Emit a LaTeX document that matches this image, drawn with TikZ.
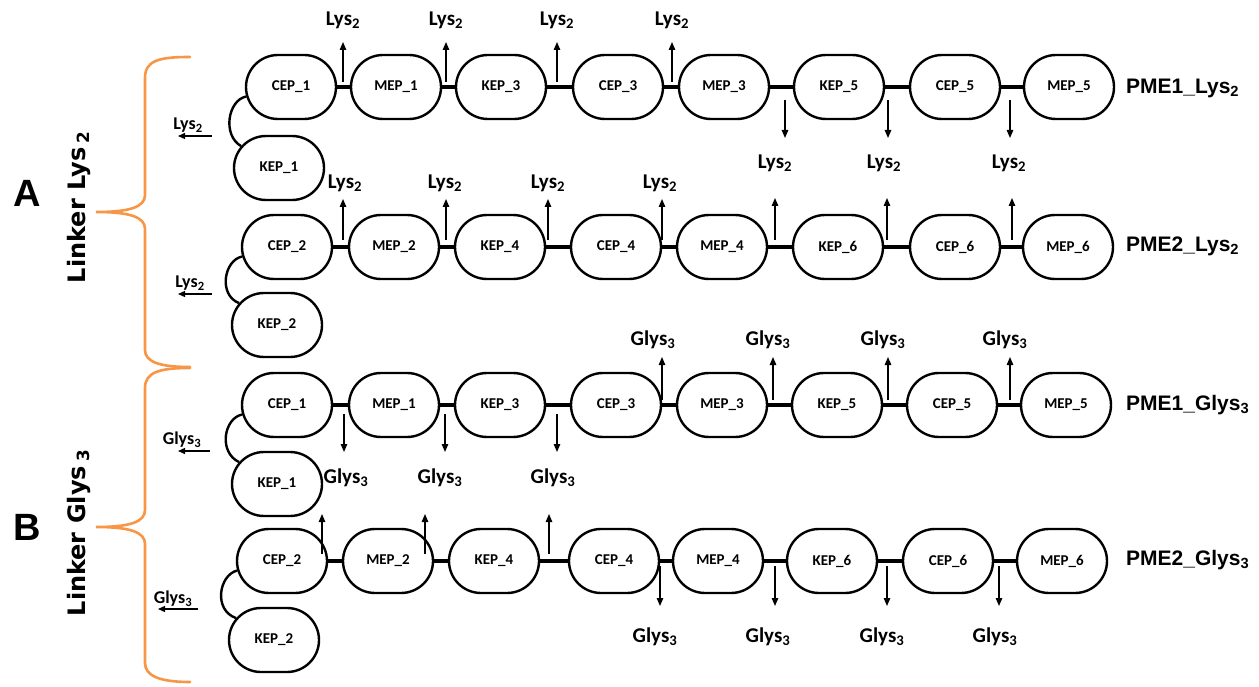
\documentclass[tikz,border=0pt]{standalone}
\usepackage{fontspec}
\setmainfont{Carlito}
\newfontfamily\arialf{Liberation Sans}
\newfontfamily\dejaf{DejaVu Sans}
\usetikzlibrary{arrows.meta,shapes.misc}
\definecolor{braceorange}{HTML}{F79646}
\begin{document}
\begin{tikzpicture}[x=1pt,y=-1pt,
  pep/.style={rounded rectangle, draw, line width=2.4pt, minimum width=90pt, minimum height=64pt, inner sep=0pt, font=\bfseries\fontsize{15}{15}\selectfont},
  link/.style={line width=3.5pt},
  arr/.style={line width=1.3pt, -{Triangle[length=8pt,width=6.5pt]}},
  larr/.style={line width=1.3pt, -{Triangle[length=7pt,width=6pt]}},
  lab/.style={inner sep=0pt, font=\bfseries\fontsize{21}{21}\selectfont},
  llab/.style={inner sep=0pt, font=\bfseries\fontsize{18}{18}\selectfont},
  pme/.style={inner sep=0pt, anchor=west, font=\arialf\bfseries\fontsize{21}{21}\selectfont},
  brace/.style={draw=braceorange, line width=2.6pt, line cap=round},
  curve/.style={line width=2.4pt},
  letter/.style={inner sep=0pt, font=\arialf\bfseries\fontsize{38}{38}\selectfont},
  linker/.style={inner sep=0pt, rotate=90, font=\dejaf\bfseries\fontsize{24}{24}\selectfont}
]
\useasboundingbox (0,0) rectangle (1259,687);

% ---------- braces and side texts ----------
\draw[brace] (190,57) .. controls (160,57) and (145,60) .. (145,78) -- (145,195)
  .. controls (145,207) and (130,212) .. (96,212) .. controls (130,212) and (145,217) .. (145,229)
  -- (145,350) .. controls (145,362) and (160,367) .. (190,367);
\draw[brace] (190,368) .. controls (160,368) and (145,372) .. (145,388) -- (145,510)
  .. controls (145,522) and (130,527) .. (96,527) .. controls (130,527) and (145,532) .. (145,544)
  -- (145,663) .. controls (145,676) and (160,682) .. (190,682);
\node[letter] (lA) at (27,193) {A};
\node[letter] (lB) at (27,527) {B};
\node[linker] (linkA) at (79,207) {Linker Lys\,\textsubscript{2}};
\node[linker] (linkB) at (79,533) {Linker Glys\,\textsubscript{3}};

% ---------- row 1: PME1_Lys2 ----------
\node[pep] (a1) at (291,87) {CEP\_1};
\node[pep] (a2) at (396,87) {MEP\_1};
\node[pep] (a3) at (501,87) {KEP\_3};
\node[pep] (a4) at (618,87) {CEP\_3};
\node[pep] (a5) at (724,87) {MEP\_3};
\node[pep] (a6) at (839,87) {KEP\_5};
\node[pep] (a7) at (955,87) {CEP\_5};
\node[pep] (a8) at (1069,87) {MEP\_5};
\node[pep] (a0) at (279,168) {KEP\_1};
\foreach \i/\j in {a1/a2,a2/a3,a3/a4,a4/a5,a5/a6,a6/a7,a7/a8} \draw[link] (\i.east) -- (\j.west);
\draw[curve] (a1.192) .. controls (228,100) and (222,135) .. (a0.150);
\node[pme] (pa) at (1126,88) {PME1\_Lys\textsubscript{2}};
\node[llab] (la0) at (188,125) {Lys\textsubscript{2}};
\draw[larr] (212,136) -- (178,136);
\foreach \x in {343,446,557,672} {\draw[arr] (\x,82) -- (\x,42); \node[lab] at (\x,20) {Lys\textsubscript{2}};}
\foreach \x/\lx in {785/775,888/884,1010/1009} {\draw[arr] (\x,100) -- (\x,138); \node[lab] at (\lx,163) {Lys\textsubscript{2}};}

% ---------- row 2: PME2_Lys2 ----------
\node[pep] (b1) at (287,247) {CEP\_2};
\node[pep] (b2) at (394,247) {MEP\_2};
\node[pep] (b3) at (500,247) {KEP\_4};
\node[pep] (b4) at (616,247) {CEP\_4};
\node[pep] (b5) at (722,247) {MEP\_4};
\node[pep] (b6) at (838,247) {KEP\_6};
\node[pep] (b7) at (955,247) {CEP\_6};
\node[pep] (b8) at (1068,247) {MEP\_6};
\node[pep] (b0) at (277,325) {KEP\_2};
\foreach \i/\j in {b1/b2,b2/b3,b3/b4,b4/b5,b5/b6,b6/b7,b7/b8} \draw[link] (\i.east) -- (\j.west);
\draw[curve] (b1.192) .. controls (224,260) and (218,295) .. (b0.150);
\node[pme] (pb) at (1126,246) {PME2\_Lys\textsubscript{2}};
\node[llab] (lb0) at (190,283) {Lys\textsubscript{2}};
\draw[larr] (212,294) -- (178,294);
\foreach \x/\lx in {343/345,446/445,548/548,662/660} {\draw[arr] (\x,240) -- (\x,199); \node[lab] at (\lx,183) {Lys\textsubscript{2}};}
\foreach \x in {775,887,1012} {\draw[arr] (\x,240) -- (\x,198);}

% ---------- row 3: PME1_Glys3 ----------
\node[pep] (c1) at (287,405) {CEP\_1};
\node[pep] (c2) at (394,405) {MEP\_1};
\node[pep] (c3) at (500,405) {KEP\_3};
\node[pep] (c4) at (616,405) {CEP\_3};
\node[pep] (c5) at (722,405) {MEP\_3};
\node[pep] (c6) at (837,405) {KEP\_5};
\node[pep] (c7) at (952,405) {CEP\_5};
\node[pep] (c8) at (1066,405) {MEP\_5};
\node[pep] (c0) at (277,484) {KEP\_1};
\foreach \i/\j in {c1/c2,c2/c3,c3/c4,c4/c5,c5/c6,c6/c7,c7/c8} \draw[link] (\i.east) -- (\j.west);
\draw[curve] (c1.192) .. controls (224,418) and (218,452) .. (c0.150);
\node[pme] (pc) at (1126,405) {PME1\_Glys\textsubscript{3}};
\node[llab] (lc0) at (182,440) {Glys\textsubscript{3}};
\draw[larr] (210,451) -- (178,451);
\foreach \x/\lx in {344/346,445/440,557/553} {\draw[arr] (\x,414) -- (\x,452); \node[lab] at (\lx,478) {Glys\textsubscript{3}};}
\foreach \x/\lx in {662/653,773/768,888/883,1010/1005} {\draw[arr] (\x,400) -- (\x,357); \node[lab] at (\lx,340) {Glys\textsubscript{3}};}

% ---------- row 4: PME2_Glys3 ----------
\node[pep] (d1) at (282,561) {CEP\_2};
\node[pep] (d2) at (388,561) {MEP\_2};
\node[pep] (d3) at (494,561) {KEP\_4};
\node[pep] (d4) at (614,561) {CEP\_4};
\node[pep] (d5) at (718,561) {MEP\_4};
\node[pep] (d6) at (832,561) {KEP\_6};
\node[pep] (d7) at (948,561) {CEP\_6};
\node[pep] (d8) at (1062,561) {MEP\_6};
\node[pep] (d0) at (274,640) {KEP\_2};
\foreach \i/\j in {d1/d2,d2/d3,d3/d4,d4/d5,d5/d6,d6/d7,d7/d8} \draw[link] (\i.east) -- (\j.west);
\draw[curve] (d1.192) .. controls (219,575) and (213,610) .. (d0.150);
\node[pme] (pd) at (1126,560) {PME2\_Glys\textsubscript{3}};
\node[llab] (ld0) at (173,599) {Glys\textsubscript{3}};
\draw[larr] (198,609) -- (158,609);
\foreach \x in {322,425,549} {\draw[arr] (\x,554) -- (\x,514);}
\foreach \x/\lx in {660/655,775/768,887/882,999/995} {\draw[arr] (\x,566) -- (\x,606); \node[lab] at (\lx,637) {Glys\textsubscript{3}};}
\end{tikzpicture}
\end{document}
